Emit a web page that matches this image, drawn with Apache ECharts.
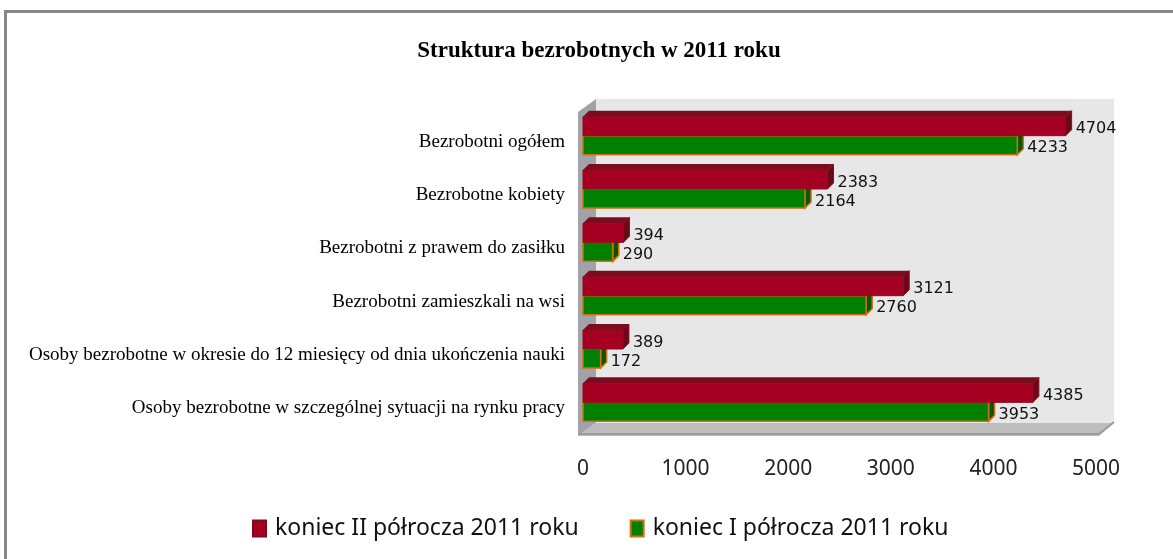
<!DOCTYPE html>
<html>
<head>
<meta charset="utf-8">
<script src="https://cdn.jsdelivr.net/npm/echarts@6/dist/echarts.min.js"></script>
<style>
  html, body { margin: 0; padding: 0; background: #fff; }
  #chart { width: 1173px; height: 559px; }
</style>
</head>
<body>
<div id="chart"></div>
<script>
const categories = [
  'Bezrobotni ogółem',
  'Bezrobotne kobiety',
  'Bezrobotni z prawem do zasiłku',
  'Bezrobotni zamieszkali na wsi',
  'Osoby bezrobotne w okresie do 12 miesięcy od dnia ukończenia nauki',
  'Osoby bezrobotne w szczególnej sytuacji na rynku pracy'
]
const seriesNames = ['koniec II półrocza 2011 roku', 'koniec I półrocza 2011 roku']
const valuesII = [4704, 2383, 394, 3121, 389, 4385]
const valuesI = [4233, 2164, 290, 2760, 172, 3953]
const axisMin = 0
const axisMax = 5000
const axisStep = 1000

// bar with a small 3d cap, drawn from the axis coords
function bar3d(upper, front, topFace, side, stroke, lw) {
  return function (params, api) {
    const v = api.value(0)
    const c = api.value(1)
    const p0 = api.coord([0, c])
    const p1 = api.coord([v, c])
    const h = 19, d = 6
    const y0 = upper ? p0[1] - h : p0[1]
    const x0 = p0[0], x1 = p1[0]
    const children = []
    if (upper) {
      children.push({ type: 'polygon', shape: { points: [[x0, y0], [x0 + d, y0 - d], [x1 + d, y0 - d], [x1, y0]] },
        style: { fill: topFace } })
    }
    children.push({ type: 'polygon', shape: { points: [[x1, y0], [x1 + d, y0 - d], [x1 + d, y0 + h - d], [x1, y0 + h]] },
      style: { fill: side, stroke: stroke, lineWidth: lw } })
    children.push({ type: 'rect', shape: { x: x0, y: y0, width: x1 - x0, height: h },
      style: { fill: front, stroke: stroke, lineWidth: lw } })
    children.push({ type: 'text', style: { text: String(v), x: x1 + d + 4, y: y0 + h / 2 + 3,
      verticalAlign: 'middle', align: 'left', font: '16px "DejaVu Sans"', fill: '#111' } })
    return { type: 'group', children: children }
  }
}

const option = {
  animation: false,
  backgroundColor: '#fff',
  title: {
    text: 'Struktura bezrobotnych w 2011 roku',
    left: 594,
    textAlign: 'center',
    top: 35,
    textStyle: { fontFamily: 'Liberation Serif', fontWeight: 'bold', fontSize: 23, color: '#000' }
  },
  legend: {
    data: seriesNames,
    left: 247,
    top: 512,
    itemWidth: 13,
    itemHeight: 16,
    itemGap: 51,
    icon: 'rect',
    textStyle: { fontFamily: 'Noto Sans', fontSize: 23, color: '#111', padding: [0, 0, 0, 4] }
  },
  graphic: [
    { type: 'rect', z: -10, shape: { x: 5.5, y: 11.5, width: 1300, height: 700 },
      style: { fill: 'none', stroke: '#878787', lineWidth: 3 } },
    { type: 'rect', z: -5, shape: { x: 596, y: 99, width: 518, height: 324 }, style: { fill: '#e7e7e7' } },
    { type: 'polygon', z: -4, shape: { points: [[578, 112], [596, 99], [596, 423], [578, 436]] },
      style: { fill: '#a2a2aa' } },
    { type: 'polygon', z: -4, shape: { points: [[578, 436], [1099, 436], [1114, 423], [596, 423]] },
      style: { fill: '#bdbdbd' } },
    { type: 'polyline', z: -3, shape: { points: [[578, 434], [1099, 434], [1114, 422]] },
      style: { stroke: '#9c9c9c', lineWidth: 2, fill: 'none' } }
  ],
  grid: { left: 583, top: 109, width: 513, height: 320, containLabel: false },
  xAxis: {
    type: 'value',
    min: axisMin,
    max: axisMax,
    interval: axisStep,
    axisLine: { show: false },
    axisTick: { show: false },
    splitLine: { show: false },
    axisLabel: { margin: 30, fontFamily: 'Noto Sans', fontSize: 21, color: '#222', formatter: v => String(v) }
  },
  yAxis: {
    type: 'category',
    inverse: true,
    data: categories,
    axisLine: { show: false },
    axisTick: { show: false },
    axisLabel: {
      margin: 18, fontFamily: 'Liberation Serif', fontSize: 19, color: '#000',
      formatter: v => '{a|' + v + '}',
      rich: { a: { fontFamily: 'Liberation Serif', fontSize: 19, color: '#000', padding: [12, 0, 0, 0] } }
    }
  },
  series: [
    {
      name: seriesNames[0],
      type: 'custom',
      z: 3,
      itemStyle: { color: '#a50021', borderColor: '#7a0a1e', borderWidth: 1 },
      encode: { x: 0, y: 1 },
      data: valuesII.map((v, i) => [v, i]),
      renderItem: bar3d(true, '#a50021', '#7b0c1f', '#6c0818', '#8e0a22', 1)
    },
    {
      name: seriesNames[1],
      type: 'custom',
      z: 2,
      itemStyle: { color: '#008000', borderColor: '#d0700e', borderWidth: 2 },
      encode: { x: 0, y: 1 },
      data: valuesI.map((v, i) => [v, i]),
      renderItem: bar3d(false, '#008000', '#005a00', '#005800', '#d0700e', 1.5)
    }
  ]
}

const chart = echarts.init(document.getElementById('chart'))
chart.setOption(option)
</script>
</body>
</html>
